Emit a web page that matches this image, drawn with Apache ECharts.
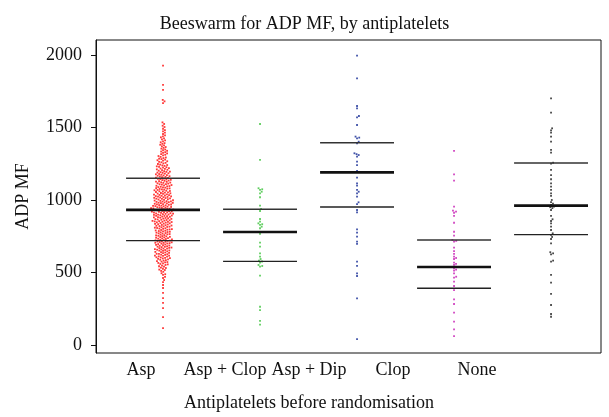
<!DOCTYPE html>
<html>
<head>
<meta charset="utf-8">
<script src="https://cdn.jsdelivr.net/npm/echarts@6/dist/echarts.min.js"></script>
<style>
  html, body { margin: 0; padding: 0; background: #fff; }
  #chart { width: 609px; height: 417px; }
</style>
</head>
<body>
<div id="chart"></div>
<script>
// categories and tick labels
const categories = ['Asp', 'Asp + Clop', 'Asp + Dip', 'Clop', 'None'];
const yTicks = [0, 500, 1000, 1500, 2000];

// ADP MF values, one array per group
const aspValues = [
  117, 193, 255, 290, 324, 359, 393, 414, 434, 448,
  462, 470, 483, 488, 495,
  505, 511, 517, 520, 526, 531, 534, 540, 543, 548,
  552, 556, 559, 563, 566, 570, 572, 575, 579, 582, 585, 588, 590, 594, 597, 599,
  601, 604, 605, 609, 611, 614, 616, 617, 621, 623, 626, 628, 629, 633, 636, 638, 641, 642, 646, 649,
  651, 652, 655, 657, 659, 661, 664, 665, 668, 670, 672, 675, 677, 678, 681, 684, 686, 688, 690, 693, 696, 699,
  700, 702, 704, 705, 708, 710, 712, 714, 715, 718, 720, 722, 724, 726, 728, 731, 733, 735, 737, 740, 742, 744, 746, 749,
  751, 753, 756, 758, 761, 763, 765, 768, 770, 772, 775, 777, 779, 781, 784, 786, 788, 790, 793, 795, 797, 799,
  801, 803, 805, 807, 809, 812, 814, 816, 818, 820, 822, 824, 826, 828, 831, 833, 835, 837, 839, 841, 844, 846, 848, 849,
  850, 852, 854, 856, 858, 860, 862, 864, 866, 868, 870, 872, 874, 876, 878, 880, 882, 884, 886, 888, 890, 891, 893, 895, 897, 899,
  900, 902, 904, 906, 907, 909, 911, 913, 915, 916, 918, 920, 922, 924, 925, 927, 929, 931, 933, 934, 936, 938, 940, 942, 943, 945, 947, 949,
  950, 952, 954, 956, 958, 959, 961, 963, 965, 967, 969, 970, 972, 974, 976, 978, 980, 981, 983, 985, 987, 989, 991, 992, 994, 996, 998,
  1001, 1003, 1005, 1007, 1009, 1011, 1013, 1015, 1017, 1019, 1021, 1023, 1025, 1027, 1029, 1031, 1033, 1035, 1037, 1039, 1042, 1044, 1046, 1048,
  1051, 1053, 1055, 1058, 1060, 1062, 1064, 1067, 1069, 1071, 1073, 1076, 1078, 1080, 1082, 1085, 1087, 1089, 1091, 1094, 1096, 1098,
  1101, 1103, 1106, 1108, 1110, 1113, 1115, 1118, 1120, 1122, 1125, 1127, 1129, 1132, 1134, 1137, 1139, 1141, 1144, 1146, 1148,
  1152, 1154, 1157, 1159, 1162, 1164, 1167, 1169, 1172, 1174, 1177, 1179, 1182, 1184, 1187, 1189, 1192, 1194, 1196, 1199,
  1202, 1205, 1208, 1211, 1214, 1217, 1220, 1223, 1226, 1229, 1232, 1235, 1238, 1241, 1244, 1248,
  1252, 1256, 1260, 1263, 1267, 1271, 1274, 1278, 1282, 1285, 1289, 1293, 1297,
  1303, 1307, 1312, 1316, 1321, 1325, 1330, 1334, 1339, 1343, 1348,
  1354, 1359, 1365, 1370, 1376, 1381, 1387, 1392, 1398,
  1404, 1411, 1418, 1425, 1432, 1439, 1446,
  1455, 1464, 1473, 1482, 1491,
  1503, 1512, 1524, 1535,
  1668, 1680, 1690, 1759, 1793, 1926
];
const aspClopValues = [
  1524, 1276, 1081, 1074, 1069, 1057, 1046, 1019, 961, 938, 924, 869, 851, 839, 833,
  828, 816, 805, 766, 706, 678, 632, 609, 593, 582, 576, 568, 552, 545, 540, 478,
  264, 241, 166, 140
];
const aspDipValues = [
  1995, 1839, 1648, 1632, 1579, 1570, 1517, 1437, 1430, 1425, 1402, 1391, 1322, 1316,
  1310, 1299, 1264, 1241, 1200, 1154, 1115, 1099, 1069, 1057, 1046, 1023, 984, 972,
  931, 915, 798, 775, 747, 713, 697, 575, 545, 494, 476, 322, 41
];
const clopValues = [
  1338, 1177, 1133, 954, 926, 920, 912, 890, 843, 781, 754, 724, 718, 713, 671, 648,
  628, 609, 600, 593, 568, 560, 552, 540, 529, 520, 513, 494, 471, 465, 437, 407, 379,
  315, 283, 223, 161, 108, 62
];
const noneValues = [
  1701, 1602, 1494, 1480, 1464, 1437, 1402, 1345, 1326, 1257, 1250, 1207, 1172, 1143,
  1115, 1092, 1069, 1046, 1028, 1000, 985, 975, 966, 960, 955, 950, 944, 931, 890, 867,
  855, 839, 816, 793, 770, 759, 745, 731, 701, 640, 632, 625, 582, 575, 483, 430, 352,
  276, 214, 195
];

// horizontal lines: upper quartile, median, lower quartile
const upperQuartile = [1150, 936, 1395, 724, 1255];
const medians = [932, 779, 1190, 538, 961];
const lowerQuartile = [720, 577, 952, 391, 761];

const groups = [aspValues, aspClopValues, aspDipValues, clopValues, noneValues];
const colors = ['#ff2222', '#4fc94f', '#2b3f9f', '#cc33bb', '#333333'];

// axis ranges / plot box (pixels)
const Y_MIN = -55, Y_MAX = 2103;
const X_MIN = 0.309, X_MAX = 5.515;
const PLOT_W = 505, PLOT_H = 313;
const pxPerY = PLOT_H / (Y_MAX - Y_MIN);
const pxPerX = PLOT_W / (X_MAX - X_MIN);
const DOT_GAP = 2.3; // px between dot centres in the swarm

// simple swarm layout: each dot goes as close to the centre as it can without overlap
function swarm(values, center) {
  const sorted = values.slice().sort((a, b) => a - b);
  const placed = [];
  const out = [];
  sorted.forEach(v => {
    const y = v * pxPerY;
    const near = placed.filter(p => Math.abs(p.y - y) < DOT_GAP);
    const cands = [0];
    near.forEach(p => {
      const dx = Math.sqrt(DOT_GAP * DOT_GAP - (p.y - y) * (p.y - y));
      cands.push(p.x + dx, p.x - dx);
    });
    cands.sort((a, b) => Math.abs(a) - Math.abs(b));
    let x = 0;
    for (const c of cands) {
      const ok = near.every(p => (p.x - c) * (p.x - c) + (p.y - y) * (p.y - y) >= DOT_GAP * DOT_GAP - 0.01);
      if (ok) { x = c; break; }
    }
    placed.push({ x: x, y: y });
    out.push([center + x / pxPerX, v]);
  });
  return out;
}

function segmentSeries(vals, width, color) {
  return {
    type: 'custom',
    xAxisIndex: 0,
    yAxisIndex: 0,
    silent: true,
    z: 5,
    data: vals.map((v, i) => [i + 1, v]),
    renderItem: function (params, api) {
      const a = api.coord([api.value(0) - 0.381, api.value(1)]);
      const b = api.coord([api.value(0) + 0.381, api.value(1)]);
      return {
        type: 'line',
        shape: { x1: a[0], y1: a[1], x2: b[0], y2: b[1] },
        style: { stroke: color, lineWidth: width }
      };
    }
  };
}

const font = 'Liberation Serif';
const chart = echarts.init(document.getElementById('chart'), null, { renderer: 'canvas' });

const series = groups.map((g, i) => ({
  type: 'scatter',
  xAxisIndex: 0,
  yAxisIndex: 0,
  symbol: 'rect',
  symbolSize: 1.8,
  itemStyle: { color: colors[i], opacity: 0.9 },
  silent: true,
  data: swarm(g, i + 1)
}));
series.push(segmentSeries(upperQuartile, 1.4, '#333'));
series.push(segmentSeries(lowerQuartile, 1.4, '#222'));
series.push(segmentSeries(medians, 2.6, '#111'));

chart.setOption({
  backgroundColor: '#fff',
  animation: false,
  title: {
    text: 'Beeswarm for ADP MF, by antiplatelets',
    left: 'center',
    top: 10,
    textStyle: { fontFamily: font, fontSize: 18, fontWeight: 'normal', color: '#111' }
  },
  grid: [
    { left: 96, right: 8, top: 40, bottom: 64, show: true, borderColor: '#111', borderWidth: 1, backgroundColor: 'transparent' },
    { left: 99, right: 90, top: 40, bottom: 64 }
  ],
  xAxis: [
    { type: 'value', gridIndex: 0, min: X_MIN, max: X_MAX, show: false },
    {
      type: 'category',
      gridIndex: 1,
      data: categories,
      axisLine: { show: false },
      axisTick: { show: false },
      axisLabel: { interval: 0, fontFamily: font, fontSize: 18, color: '#111', margin: 15 },
      name: 'Antiplatelets before randomisation',
      nameLocation: 'middle',
      nameGap: 48,
      nameTextStyle: { fontFamily: font, fontSize: 18, color: '#111' }
    }
  ],
  yAxis: [
    {
      type: 'value',
      gridIndex: 0,
      min: Y_MIN,
      max: Y_MAX,
      splitLine: { show: false },
      axisLine: { show: true, lineStyle: { color: '#111', width: 1 } },
      axisTick: { show: true, length: 5, customValues: yTicks, lineStyle: { color: '#111' } },
      axisLabel: {
        customValues: yTicks,
        formatter: v => String(v),
        fontFamily: font, fontSize: 18, color: '#111', margin: 14
      },
      name: 'ADP MF',
      nameLocation: 'middle',
      nameGap: 64,
      nameTextStyle: { fontFamily: font, fontSize: 18, color: '#111' }
    },
    { type: 'value', gridIndex: 1, show: false }
  ],
  series: series
});
</script>
</body>
</html>
